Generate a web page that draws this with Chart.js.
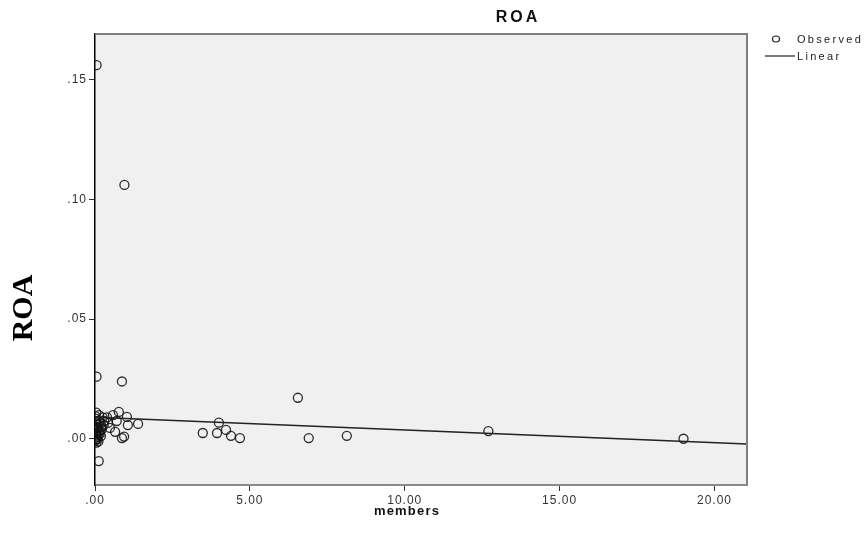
<!DOCTYPE html>
<html>
<head>
<meta charset="utf-8">
<title>ROA</title>
<script src="https://cdn.jsdelivr.net/npm/chart.js@4"></script>
<style>
  html, body { margin:0; padding:0; background:#fff; }
  #wrap { width:867px; height:538px; position:relative; }
</style>
</head>
<body>
<div id="wrap"><canvas id="roaChart" width="867" height="538"></canvas></div>
<script>
// observed points (members, ROA)
const obsX = [
  0.05, 0.95, 0.05, 0.87, 6.55, 0.12,
  3.48, 3.94, 4.00, 4.23, 4.39, 4.68, 6.90, 8.13, 12.70, 19.00,
  0.77, 1.03, 1.39, 1.06, 0.58, 0.65, 0.87, 0.42, 0.48, 0.39, 0.94, 0.70,
  0.02, 0.05, 0.08, 0.03, 0.10, 0.06, 0.12, 0.02, 0.15, 0.04,
  0.09, 0.01, 0.07, 0.03, 0.11, 0.05, 0.18, 0.20, 0.14, 0.22,
  0.25, 0.17, 0.01, 0.30, 0.28, 0.13, 0.04, 0.19, 0.06, 0.02
];
const obsY = [
  0.156, 0.106, 0.026, 0.024, 0.0172, -0.0092,
  0.0025, 0.0025, 0.0068, 0.0038, 0.0013, 0.0004, 0.0004, 0.0013, 0.0033, 0.0001,
  0.0113, 0.0092, 0.0063, 0.0058, 0.0100, 0.0030, 0.0004, 0.0067, 0.0046, 0.0090, 0.0010, 0.0075,
  0.0085, 0.0072, 0.0060, 0.0050, 0.0045, 0.0038, 0.0030, 0.0025, 0.0020, 0.0015,
  0.0010, 0.0005, 0.0000, -0.0005, -0.0010, -0.0015, 0.0065, 0.0052, 0.0078, 0.0040,
  0.0090, 0.0033, 0.0095, 0.0075, 0.0058, 0.0100, 0.0110, 0.0012, 0.0022, -0.0002
];

// fitted linear line, read at both ends
const linX = [0, 21.05];
const linY = [0.0091, -0.0021];

const xTicks = [0, 5, 10, 15, 20];
const xTickLabels = [".00", "5.00", "10.00", "15.00", "20.00"];
const yTicks = [0, 0.05, 0.10, 0.15];
const yTickLabels = [".00", ".05", ".10", ".15"];

const xRange = [0, 21.05];
const yRange = [-0.0192, 0.169];

const chartTitle = "ROA";
const xTitle = "members";
const yTitle = "ROA";

const frame =
{
  id: "frame",
  beforeDraw(chart)
  {
    const { ctx, chartArea: a } = chart;
    ctx.save();
    ctx.fillStyle = "#f0f0f0";
    ctx.fillRect(a.left, a.top, a.right - a.left, a.bottom - a.top);
    ctx.restore();
    // SPSS tick text is widely spaced
    ctx.letterSpacing = "1px";
  },
  afterDraw(chart)
  {
    const { ctx, chartArea: a } = chart;
    ctx.save();
    // top + right frame
    ctx.strokeStyle = "#808080";
    ctx.lineWidth = 2;
    ctx.beginPath();
    ctx.moveTo(a.left, a.top);
    ctx.lineTo(a.right, a.top);
    ctx.lineTo(a.right, a.bottom);
    ctx.stroke();

    // titles
    ctx.fillStyle = "#111";
    ctx.textAlign = "center";
    ctx.textBaseline = "middle";
    ctx.letterSpacing = "3px";
    ctx.font = "bold 16px 'Liberation Sans', Arial, sans-serif";
    ctx.fillText(chartTitle, 518, 18);
    ctx.letterSpacing = "1.2px";
    ctx.font = "bold 13px 'Liberation Sans', Arial, sans-serif";
    ctx.fillText(xTitle, 407, 511);

    ctx.save();
    ctx.translate(24, 308);
    ctx.rotate(-Math.PI / 2);
    ctx.fillStyle = "#000";
    ctx.letterSpacing = "0px";
    ctx.font = "bold 30px 'Liberation Serif', 'Times New Roman', serif";
    ctx.fillText(yTitle, 0, 0);
    ctx.restore();

    // legend
    const ds = chart.data.datasets;
    ctx.textAlign = "left";
    ctx.letterSpacing = "2.3px";
    ctx.font = "11px 'Liberation Sans', Arial, sans-serif";
    ctx.fillStyle = "#222";
    ctx.strokeStyle = "#222";
    ctx.lineWidth = 1.2;
    ctx.beginPath();
    ctx.ellipse(776, 39, 3.5, 3, 0, 0, Math.PI * 2);
    ctx.stroke();
    ctx.fillText(ds[0].label, 797, 40);
    ctx.beginPath();
    ctx.moveTo(765, 56);
    ctx.lineTo(795, 56);
    ctx.stroke();
    ctx.fillText(ds[1].label, 797, 57);
    ctx.restore();
  }
};

function fixTicks(values)
{
  return scale =>
  {
    scale.ticks = values.map(v => ({ value: v }));
  };
}

new Chart(document.getElementById("roaChart"),
{
  type: "scatter",
  data:
  {
    datasets: [
    {
      label: "Observed",
      data: obsX.map((x, i) => ({ x: x, y: obsY[i] })),
      pointStyle: "circle",
      pointRadius: 4.5,
      pointBorderWidth: 1.3,
      pointBorderColor: "rgba(20,20,20,0.9)",
      pointBackgroundColor: "rgba(0,0,0,0)",
      showLine: false,
      order: 2
    },
    {
      label: "Linear",
      data: linX.map((x, i) => ({ x: x, y: linY[i] })),
      showLine: true,
      borderColor: "#222",
      borderWidth: 1.4,
      pointRadius: 0,
      order: 1
    }]
  },
  options:
  {
    responsive: false,
    animation: false,
    events: [],
    layout: { padding: { top: 34, right: 120, left: 0, bottom: 0 } },
    plugins:
    {
      legend: { display: false },
      tooltip: { enabled: false }
    },
    scales:
    {
      x:
      {
        type: "linear",
        min: xRange[0],
        max: xRange[1],
        afterBuildTicks: fixTicks(xTicks),
        afterFit: s => { s.height = 53; },
        border: { display: true, color: "#8a8a8a", width: 2 },
        grid: { display: true, drawOnChartArea: false, drawTicks: true, tickLength: 6, color: "#333", lineWidth: 1 },
        ticks:
        {
          autoSkip: false,
          maxRotation: 0,
          padding: 2,
          color: "#333",
          font: { family: "'Liberation Sans', Arial, sans-serif", size: 12 },
          callback: (v, i) => xTickLabels[i]
        }
      },
      y:
      {
        type: "linear",
        min: yRange[0],
        max: yRange[1],
        afterBuildTicks: fixTicks(yTicks),
        afterFit: s => { s.width = 95; },
        border: { display: true, color: "#000", width: 1.5 },
        grid: { display: true, drawOnChartArea: false, drawTicks: true, tickLength: 6, color: "#333", lineWidth: 1 },
        ticks:
        {
          autoSkip: false,
          padding: 2,
          color: "#333",
          font: { family: "'Liberation Sans', Arial, sans-serif", size: 12 },
          callback: (v, i) => yTickLabels[i]
        }
      }
    }
  },
  plugins: [frame]
});
</script>
</body>
</html>
